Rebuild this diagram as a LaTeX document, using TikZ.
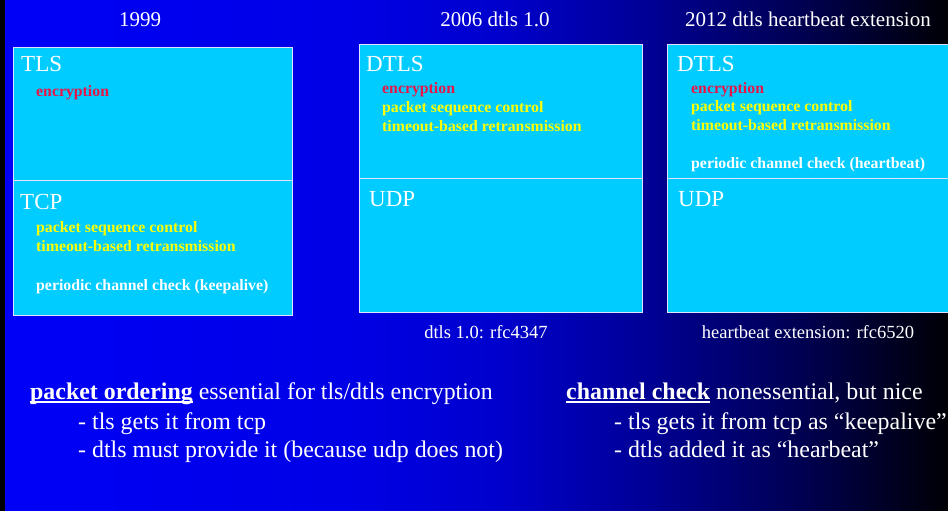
\documentclass[tikz,border=0pt]{standalone}
\usepackage{fontspec}
\setmainfont{Liberation Serif}
\definecolor{boxcyan}{RGB}{0,204,255}
\definecolor{featred}{RGB}{235,20,70}
\definecolor{featyellow}{RGB}{255,255,0}
\definecolor{boxline}{RGB}{225,225,255}
\pgfdeclarehorizontalshading{bgshade}{100bp}{rgb(0bp)=(0,0,0.97); rgb(25bp)=(0,0,0.97); rgb(43.5bp)=(0,0,0.9); rgb(51.4bp)=(0,0,0.8); rgb(59.3bp)=(0,0,0.58); rgb(67.2bp)=(0,0,0.32); rgb(75bp)=(0,0,0.02); rgb(100bp)=(0,0,0.02)}
\newcommand\ulbox[1]{\setbox0\hbox{#1}\rlap{\rule[-3.5pt]{\wd0}{1.8pt}}\box0\relax}
\tikzset{
  layerbox/.style={draw=boxline, line width=1pt, fill=boxcyan, inner sep=0pt, anchor=north west},
  title/.style={text=white, inner sep=0pt, anchor=base, font=\fontsize{21}{25}\selectfont},
  layer/.style={text=white, inner sep=0pt, anchor=base west, font=\fontsize{23}{27}\selectfont},
  feat/.style={inner sep=0pt, anchor=base west, font=\fontsize{15.8}{19}\selectfont\bfseries},
  redfeat/.style={feat, text=featred},
  yelfeat/.style={feat, text=featyellow},
  whitefeat/.style={feat, text=white},
  note/.style={text=white, inner sep=0pt, anchor=base, font=\fontsize{18.5}{22}\selectfont},
  body/.style={text=white, inner sep=0pt, anchor=base west, font=\fontsize{23.9}{28}\selectfont}
}
\begin{document}
\begin{tikzpicture}[x=1pt, y=-1pt]
\useasboundingbox (0,0) rectangle (948,511);
\clip (0,0) rectangle (948,511);
\fill[shading=bgshade] (0,0) rectangle (948,511);
\fill[black] (0,0) rectangle (5,511);

% titles
\node[title] (t1) at (140,27) {1999};
\node[title] (t2) at (495,27) {2006 dtls 1.0};
\node[title] (t3) at (808,27) {2012 dtls heartbeat extension};

% boxes 1999
\node[layerbox, minimum width=279pt, minimum height=133pt] (tlsbox) at (13,47) {};
\node[layerbox, minimum width=279pt, minimum height=135pt] (tcpbox) at (13,180) {};
% boxes 2006
\node[layerbox, minimum width=283pt, minimum height=134pt] (dtlsbox) at (359,44) {};
\node[layerbox, minimum width=283pt, minimum height=134pt] (udpbox) at (359,178) {};
% boxes 2012
\node[layerbox, minimum width=290pt, minimum height=134pt] (hbbox) at (667,44) {};
\node[layerbox, minimum width=290pt, minimum height=134pt] (udpboxb) at (667,178) {};

% 1999 texts
\node[layer] (tls) at (21,72) {TLS};
\node[redfeat] (enc1) at (36,96) {encryption};
\node[layer] (tcp) at (20,209) {TCP};
\node[yelfeat] (psc1) at (36,232) {packet sequence control};
\node[yelfeat] (tbr1) at (36,251) {timeout-based retransmission};
\node[whitefeat] (pcc1) at (36,290) {periodic channel check (keepalive)};

% 2006 texts
\node[layer] (dtls2) at (366,72) {DTLS};
\node[redfeat] (enc2) at (382,93) {encryption};
\node[yelfeat] (psc2) at (382,112) {packet sequence control};
\node[yelfeat] (tbr2) at (382,131) {timeout-based retransmission};
\node[layer] (udp2) at (369,206) {UDP};

% 2012 texts
\node[layer] (dtls3) at (677,71) {DTLS};
\node[redfeat] (enc3) at (691,93) {encryption};
\node[yelfeat] (psc3) at (691,111) {packet sequence control};
\node[yelfeat] (tbr3) at (691,130) {timeout-based retransmission};
\node[whitefeat] (pcc3) at (691,168) {periodic channel check (heartbeat)};
\node[layer] (udp3) at (678,206) {UDP};

% notes
\node[note] (n2) at (486,338) {dtls 1.0: rfc4347};
\node[note] (n3) at (808,338) {heartbeat extension: rfc6520};

% bottom text left
\node[body] (po) at (30,399) {\ulbox{\textbf{packet ordering}} essential for tls/dtls encryption};
\node[body] (po1) at (78,429) {- tls gets it from tcp};
\node[body] (po2) at (78,457) {- dtls must provide it (because udp does not)};

% bottom text right
\node[body] (cc) at (566,399) {\ulbox{\textbf{channel check}} nonessential, but nice};
\node[body] (cc1) at (614,429) {- tls gets it from tcp as “keepalive”};
\node[body] (cc2) at (614,457) {- dtls added it as “hearbeat”};
\end{tikzpicture}
\end{document}
